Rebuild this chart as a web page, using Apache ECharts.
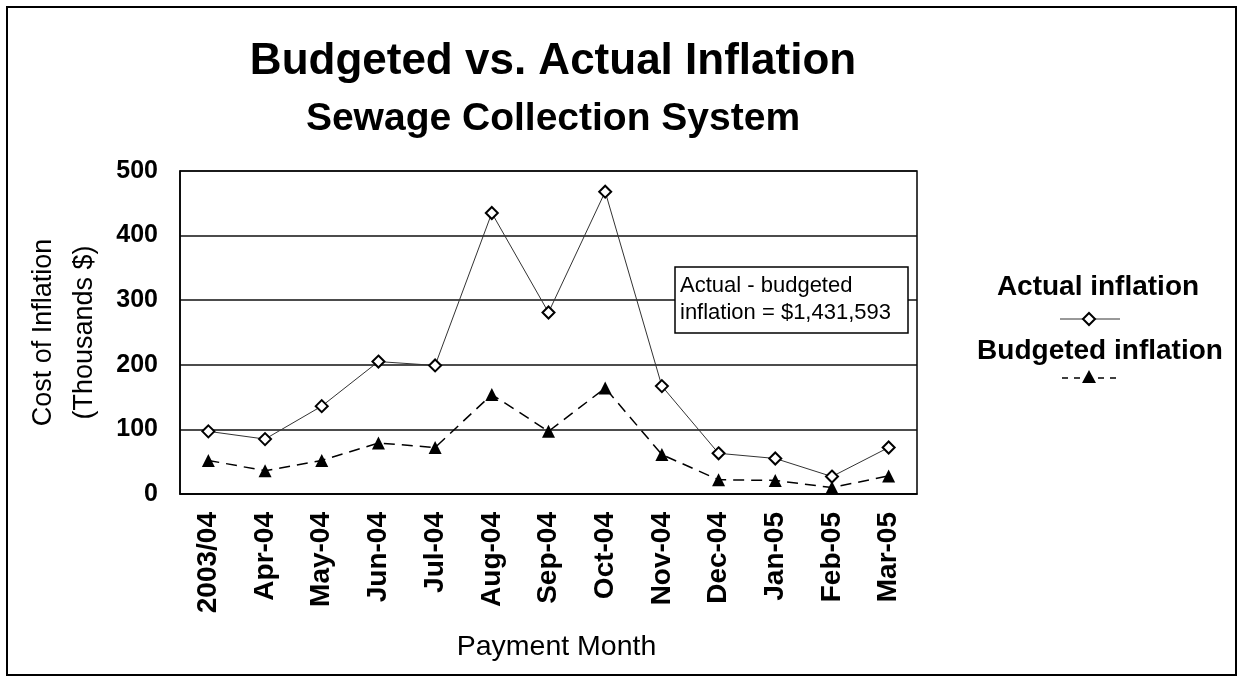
<!DOCTYPE html>
<html>
<head>
<meta charset="utf-8">
<script src="https://cdn.jsdelivr.net/npm/echarts@6/dist/echarts.min.js"></script>
<style>
html,body{margin:0;padding:0;background:#fff;}
#chart{width:1241px;height:677px;}
</style>
</head>
<body>
<div id="chart"></div>
<script>
const categories = ['2003/04','Apr-04','May-04','Jun-04','Jul-04','Aug-04','Sep-04','Oct-04','Nov-04','Dec-04','Jan-05','Feb-05','Mar-05'];
const actualInflation = [97, 85, 136, 205, 199, 435, 281, 468, 167, 63, 55, 27, 72];
const budgetedInflation = [52, 36, 52, 79, 72, 154, 97, 164, 61, 22, 21, 10, 28];
const yTicks = [0, 100, 200, 300, 400, 500];
const titleText = 'Budgeted vs. Actual Inflation';
const subtitleText = 'Sewage Collection System';
const seriesNames = ['Actual inflation', 'Budgeted inflation'];
const noteLines = ['Actual - budgeted', 'inflation = $1,431,593'];

const FONT = 'Liberation Sans, Arial, sans-serif';
const chart = echarts.init(document.getElementById('chart'), null, {renderer: 'canvas'});

const option = {
  backgroundColor: '#fff',
  animation: false,
  title: [
    {text: titleText, left: 548, textAlign: 'center', top: 35,
     textStyle: {fontFamily: FONT, fontSize: 44, fontWeight: 'bold', color: '#000'}},
    {text: subtitleText, left: 548, textAlign: 'center', top: 95,
     textStyle: {fontFamily: FONT, fontSize: 39, fontWeight: 'bold', color: '#000'}}
  ],
  grid: {left: 180, right: 324, top: 171, bottom: 183, show: true, borderColor: '#000', borderWidth: 1.5, backgroundColor: '#fff'},
  xAxis: {
    type: 'category', data: categories, boundaryGap: true,
    name: 'Payment Month', nameLocation: 'middle', nameGap: 139,
    nameTextStyle: {fontFamily: FONT, fontSize: 28.5, color: '#000', padding: [0, 0, 0, 16]},
    axisLine: {show: true, lineStyle: {color: '#000', width: 1.5}},
    axisTick: {show: false},
    axisLabel: {rotate: 90, margin: 18, fontFamily: FONT, fontSize: 28, fontWeight: 'bold', color: '#000', interval: 0}
  },
  yAxis: {
    type: 'value', min: 0, max: 500, interval: 100,
    name: 'Cost of Inflation\n(Thousands $)', nameLocation: 'middle', nameGap: 71, nameRotate: 90,
    nameTextStyle: {fontFamily: FONT, fontSize: 27, color: '#000', lineHeight: 41},
    axisLine: {show: true, lineStyle: {color: '#000', width: 1.5}},
    axisTick: {show: false},
    axisLabel: {margin: 22, fontFamily: FONT, fontSize: 25, fontWeight: 'bold', color: '#000',
      formatter: v => yTicks.includes(v) ? String(v) : ''},
    splitLine: {show: true, lineStyle: {color: '#111', width: 1.5}}
  },
  series: [
    {
      name: seriesNames[0], type: 'line', data: actualInflation,
      symbol: 'diamond', symbolSize: 12,
      itemStyle: {color: '#fff', borderColor: '#000', borderWidth: 2},
      lineStyle: {color: '#333', width: 1, type: 'solid'},
      z: 3
    },
    {
      name: seriesNames[1], type: 'line', data: budgetedInflation,
      symbol: 'triangle', symbolSize: 13,
      itemStyle: {color: '#000', borderColor: '#000', borderWidth: 0},
      lineStyle: {color: '#000', width: 1.5, type: [11, 7]},
      z: 2
    }
  ],
  graphic: [
    {type: 'rect', shape: {x: 7, y: 7, width: 1229, height: 668}, style: {fill: null, stroke: '#000', lineWidth: 2}, z: 100, silent: true},
    {type: 'rect', shape: {x: 675, y: 267, width: 233, height: 66}, style: {fill: '#fff', stroke: '#000', lineWidth: 1.5}, z: 50},
    {type: 'text', x: 680, y: 272, style: {text: noteLines.join('\n'), font: '22px ' + FONT, fill: '#000', lineHeight: 27}, z: 51},
    {type: 'text', x: 1098, y: 287, style: {text: seriesNames[0], font: 'bold 28px ' + FONT, fill: '#000', align: 'center', verticalAlign: 'middle'}, z: 51},
    {type: 'line', shape: {x1: 1060, y1: 319, x2: 1120, y2: 319}, style: {stroke: '#333', lineWidth: 1}, z: 51},
    {type: 'polygon', shape: {points: [[1089, 313], [1095, 319], [1089, 325], [1083, 319]]}, style: {fill: '#fff', stroke: '#000', lineWidth: 2}, z: 52},
    {type: 'text', x: 1100, y: 351, style: {text: seriesNames[1], font: 'bold 28px ' + FONT, fill: '#000', align: 'center', verticalAlign: 'middle'}, z: 51},
    {type: 'line', shape: {x1: 1062, y1: 378, x2: 1118, y2: 378}, style: {stroke: '#000', lineWidth: 1.5, lineDash: [6, 6]}, z: 51},
    {type: 'polygon', shape: {points: [[1089, 370], [1096, 383], [1082, 383]]}, style: {fill: '#000'}, z: 52}
  ]
};
chart.setOption(option);
</script>
</body>
</html>
